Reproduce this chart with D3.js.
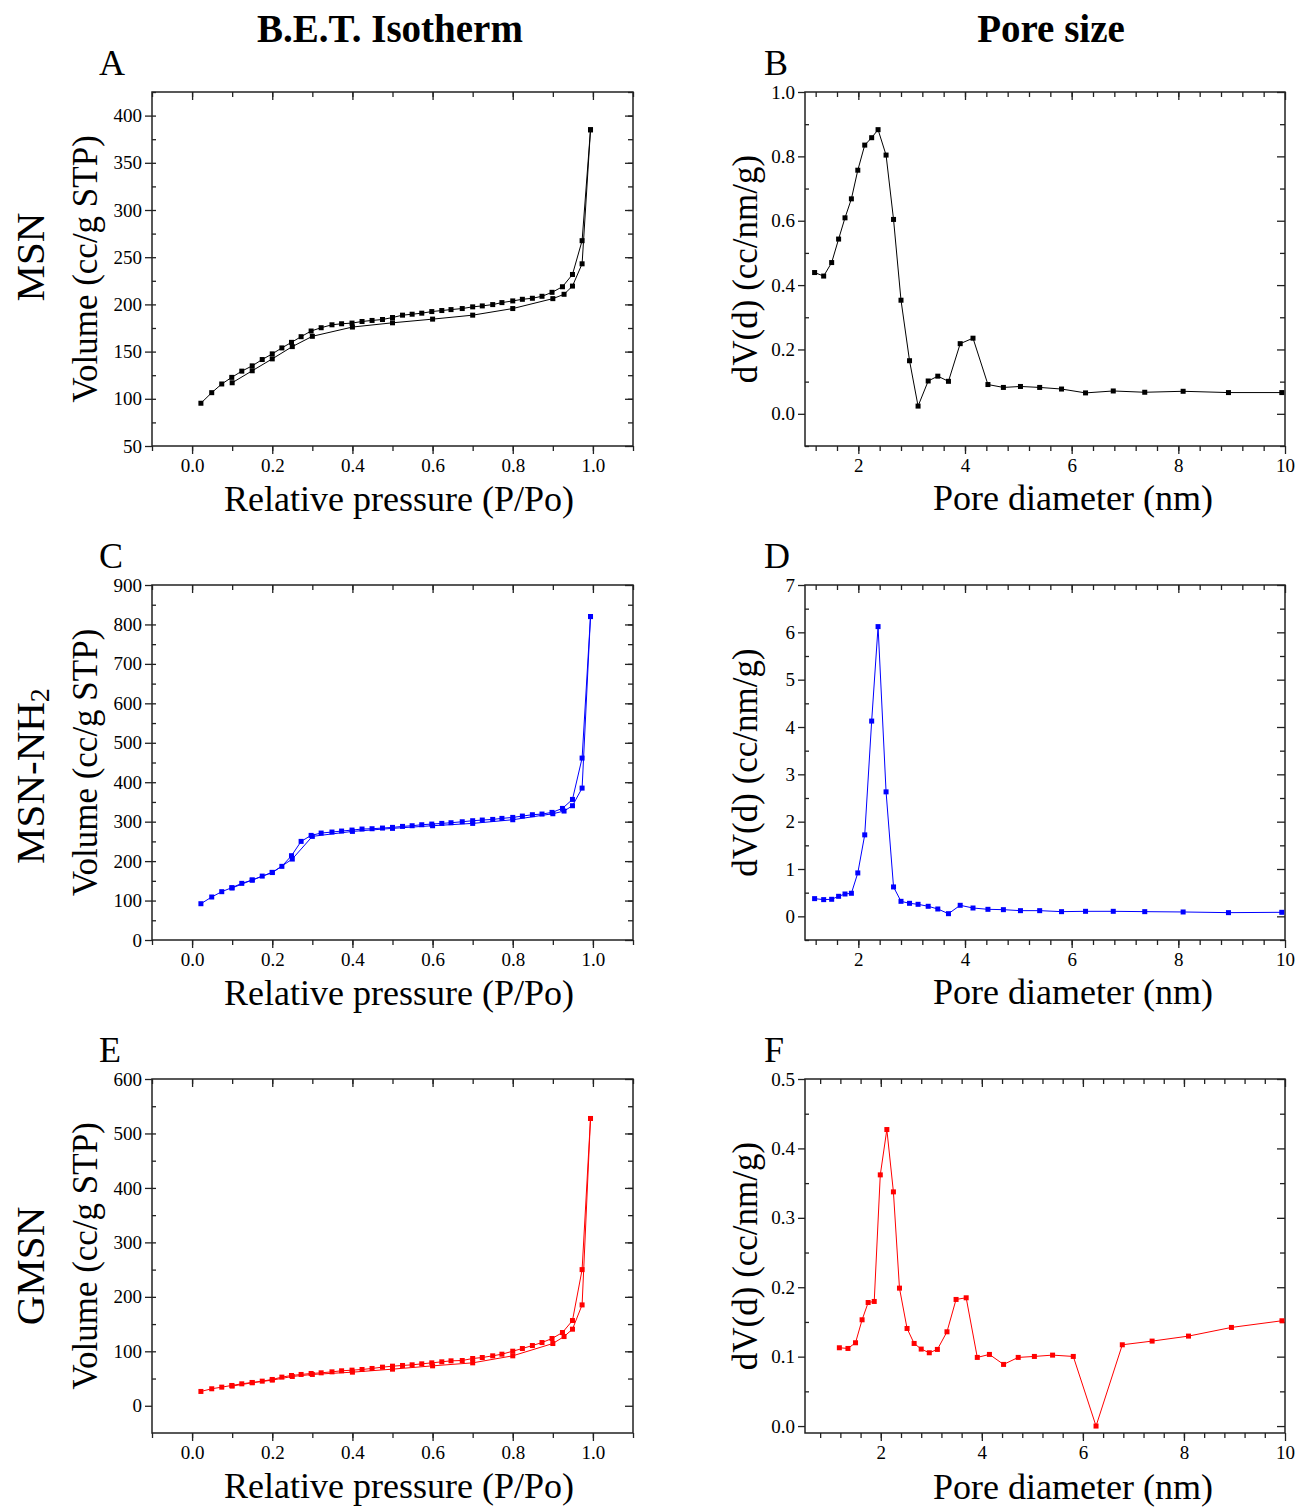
<!DOCTYPE html>
<html>
<head>
<meta charset="utf-8">
<script src="https://cdn.jsdelivr.net/npm/d3@7"></script>
<style>
  body { margin: 0; background: #fff; }
  svg { display: block; }
  text { font-family: "Liberation Serif", "Times New Roman", serif; fill: #000; }
</style>
</head>
<body>
<svg id="chart" width="1306" height="1509"></svg>
<script>
// relative pressure, dense branch (upper) and sparse branch (lower)
const pUpper = [0.022, 0.049, 0.074, 0.099, 0.124, 0.150, 0.175, 0.200, 0.224, 0.248,
  0.272, 0.297, 0.322, 0.349, 0.373, 0.399, 0.424, 0.449, 0.475, 0.500,
  0.525, 0.549, 0.573, 0.598, 0.623, 0.646, 0.674, 0.700, 0.724, 0.750,
  0.773, 0.800, 0.824, 0.849, 0.873, 0.898, 0.924, 0.949, 0.973, 0.994];
const pLower = [0.100, 0.150, 0.200, 0.250, 0.300, 0.400, 0.500, 0.600, 0.700, 0.800,
  0.900, 0.928, 0.949, 0.973, 0.994];

// MSN
const msnUpper = [95.3, 106.5, 115.7, 122.7, 129.3, 134.9, 141.6, 147.6, 153.9, 159.8,
  165.8, 171.8, 175.3, 178.4, 179.5, 180.2, 181.9, 183, 184, 186.1,
  188.6, 189.6, 190.7, 192.4, 193.5, 194.5, 195.6, 197.4, 198.4, 199.8,
  201.9, 203.7, 205.4, 206.5, 208.6, 212.8, 218.7, 231.7, 267.5, 385];
const msnLower = [117, 129.7, 142.3, 155.3, 166.2, 176, 180.5, 184.4, 188.6, 195.6,
  206.1, 210.7, 219.4, 243, 385];

// MSN-NH2
const nh2Upper = [92, 109, 122.5, 132.6, 143.6, 152, 162, 171.5, 186.7, 213.7,
  250, 265.2, 271.1, 273.7, 276.2, 278.7, 281.3, 282.1, 283.8, 285.5,
  288, 289.7, 292.2, 293.9, 295.6, 297.3, 299.8, 302.4, 304.1, 305.7,
  308.3, 310.8, 314.2, 317.6, 319.3, 323.5, 333.6, 356.4, 461.2, 820];
const nh2Lower = [132, 152, 171, 205.2, 262.7, 275.3, 283, 289.7, 295.6, 304.9,
  320.1, 326.9, 340.4, 385.1, 820];

// GMSN
const gmsnUpper = [26.3, 31.2, 34.2, 37.3, 40.3, 42.8, 45.2, 48.3, 52.6, 55.6,
  57.5, 59.3, 60.5, 62.3, 64.2, 65.4, 66.6, 68.5, 70.9, 72.7,
  74, 75.2, 77, 78.8, 80.7, 82.5, 83.1, 86.8, 88.6, 91.7,
  94.7, 100.2, 105.1, 110.6, 116.1, 123.5, 134.5, 156.5, 250, 527.5];
const gmsnLower = [36.1, 42.2, 47.1, 53.8, 57.5, 61.7, 67.2, 73.3, 78.8, 91.7,
  114.3, 127.1, 140.6, 185.2, 527.5];

// pore size distributions
const poreDiam = [1.18, 1.35, 1.50, 1.63, 1.75, 1.87, 1.99, 2.12, 2.25, 2.37,
  2.52, 2.66, 2.80, 2.96, 3.12, 3.31, 3.49, 3.69, 3.91, 4.15,
  4.43, 4.72, 5.04, 5.40, 5.81, 6.26, 6.78, 7.37, 8.09, 8.94, 9.94];
const msnPore = [0.439, 0.428, 0.47, 0.543, 0.609, 0.668, 0.757, 0.835, 0.858, 0.883,
  0.804, 0.604, 0.353, 0.165, 0.024, 0.102, 0.117, 0.101, 0.218, 0.235,
  0.091, 0.082, 0.085, 0.082, 0.077, 0.065, 0.071, 0.067, 0.07, 0.066, 0.066];
const nh2Pore = [0.374, 0.353, 0.36, 0.423, 0.472, 0.487, 0.917, 1.721, 4.125, 6.121,
  2.63, 0.621, 0.317, 0.275, 0.254, 0.212, 0.155, 0.056, 0.233, 0.176,
  0.148, 0.141, 0.12, 0.12, 0.099, 0.106, 0.106, 0.099, 0.092, 0.078, 0.085];
const gmsnPore = [0.1128, 0.1118, 0.12, 0.1531, 0.178, 0.1795, 0.3619, 0.4272, 0.3374, 0.1987,
  0.1406, 0.119, 0.1109, 0.1056, 0.1104, 0.1358, 0.1824, 0.1848, 0.0989, 0.1032,
  0.0888, 0.0989, 0.1003, 0.1022, 0.1003, 0.0, 0.1171, 0.1224, 0.1296, 0.1421, 0.1517];

const columnTitles = ["B.E.T. Isotherm", "Pore size"];
const rowNames = ["MSN", "MSN-NH", "GMSN"];
const panelLetters = ["A", "B", "C", "D", "E", "F"];

const svg = d3.select("#chart");

const range = (a, b, s) => d3.range(Math.round((b - a) / s) + 1).map(i => +(a + i * s).toFixed(4));

function drawPanel(cfg) {
  const x = d3.scaleLinear().domain(cfg.xDomain).range([cfg.left, cfg.right]);
  const y = d3.scaleLinear().domain(cfg.yDomain).range([cfg.bottom, cfg.top]);
  const g = svg.append("g");

  const styleAxis = sel => {
    sel.select(".domain").remove();
    sel.selectAll("line").attr("stroke", "#222").attr("stroke-width", 1.3);
    sel.selectAll("text").attr("font-size", 19).attr("font-family", "Liberation Serif, serif");
  };

  // bottom
  g.append("g").attr("transform", `translate(0,${cfg.bottom})`)
    .call(d3.axisBottom(x).tickValues(cfg.xMinor).tickSize(5).tickFormat(""))
    .call(styleAxis);
  g.append("g").attr("transform", `translate(0,${cfg.bottom})`)
    .call(d3.axisBottom(x).tickValues(cfg.xMajor).tickSize(8).tickPadding(5).tickFormat(d3.format(cfg.xFmt)))
    .call(styleAxis);
  // top (inward)
  g.append("g").attr("transform", `translate(0,${cfg.top})`)
    .call(d3.axisTop(x).tickValues(cfg.xMinor).tickSize(-5).tickFormat(""))
    .call(styleAxis);
  g.append("g").attr("transform", `translate(0,${cfg.top})`)
    .call(d3.axisTop(x).tickValues(cfg.xMajor).tickSize(-8).tickFormat(""))
    .call(styleAxis);
  // left
  g.append("g").attr("transform", `translate(${cfg.left},0)`)
    .call(d3.axisLeft(y).tickValues(cfg.yMinor).tickSize(-4).tickFormat(""))
    .call(styleAxis);
  g.append("g").attr("transform", `translate(${cfg.left},0)`)
    .call(d3.axisLeft(y).tickValues(cfg.yMajor).tickSize(7).tickPadding(3).tickFormat(d3.format(cfg.yFmt)))
    .call(styleAxis);
  // right (inward)
  g.append("g").attr("transform", `translate(${cfg.right},0)`)
    .call(d3.axisRight(y).tickValues(cfg.yMinor).tickSize(-5).tickFormat(""))
    .call(styleAxis);
  g.append("g").attr("transform", `translate(${cfg.right},0)`)
    .call(d3.axisRight(y).tickValues(cfg.yMajor).tickSize(-8).tickFormat(""))
    .call(styleAxis);

  g.append("rect")
    .attr("x", cfg.left).attr("y", cfg.top)
    .attr("width", cfg.right - cfg.left).attr("height", cfg.bottom - cfg.top)
    .attr("fill", "none").attr("stroke", "#222").attr("stroke-width", 1.5);

  const line = d3.line().x(d => x(d[0])).y(d => y(d[1]));
  cfg.series.forEach(s => {
    const pts = d3.zip(s.x, s.y);
    g.append("path").datum(pts)
      .attr("d", line).attr("fill", "none")
      .attr("stroke", cfg.color).attr("stroke-width", 1);
    g.selectAll(null).data(pts).join("rect")
      .attr("x", d => x(d[0]) - 2.5).attr("y", d => y(d[1]) - 2.5)
      .attr("width", 5).attr("height", 5)
      .attr("fill", cfg.color);
  });

  // axis titles
  g.append("text")
    .attr("x", cfg.xTitleX).attr("y", cfg.bottom + cfg.xTitleDy)
    .attr("text-anchor", "middle").attr("font-size", 36)
    .text(cfg.xTitle);
  g.append("text")
    .attr("transform", `translate(${cfg.left - cfg.yTitleDx},${(cfg.top + cfg.bottom) / 2}) rotate(-90)`)
    .attr("text-anchor", "middle").attr("dy", "0.35em").attr("font-size", 35)
    .text(cfg.yTitle);
  g.append("text")
    .attr("x", cfg.letterX).attr("y", cfg.top - 17)
    .attr("font-size", 36)
    .text(cfg.letter);
}

const leftCol = { left: 152, right: 633, xDomain: [-0.1, 1.1],
  xMajor: range(0, 1, 0.2), xMinor: range(-0.1, 1.1, 0.1), xFmt: ".1f",
  xTitle: "Relative pressure (P/Po)", xTitleX: 399, xTitleDy: 65,
  yTitle: "Volume (cc/g STP)", yTitleDx: 67, yFmt: "d", letterX: 99 };
const rightCol = { left: 805, right: 1285, xMajor: range(2, 10, 2), xFmt: "d",
  xTitle: "Pore diameter (nm)", xTitleX: 1073, xTitleDy: 64,
  yTitle: "dV(d) (cc/nm/g)", yTitleDx: 60, letterX: 764 };
const rows = [{ top: 92, bottom: 446 }, { top: 585, bottom: 940 }, { top: 1079, bottom: 1433 }];

// isotherms
drawPanel(Object.assign({}, leftCol, rows[0], {
  letter: panelLetters[0], color: "#000", yDomain: [50, 425],
  yMajor: range(50, 400, 50), yMinor: range(75, 425, 25),
  series: [{ x: pUpper, y: msnUpper }, { x: pLower, y: msnLower }] }));
drawPanel(Object.assign({}, leftCol, rows[1], {
  letter: panelLetters[2], color: "#0000ff", yDomain: [0, 900],
  yMajor: range(0, 900, 100), yMinor: range(50, 850, 50),
  series: [{ x: pUpper, y: nh2Upper }, { x: pLower, y: nh2Lower }] }));
drawPanel(Object.assign({}, leftCol, rows[2], {
  letter: panelLetters[4], color: "#ff0000", yDomain: [-50, 600],
  yMajor: range(0, 600, 100), yMinor: range(50, 550, 50),
  series: [{ x: pUpper, y: gmsnUpper }, { x: pLower, y: gmsnLower }] }));

// pore size
drawPanel(Object.assign({}, rightCol, rows[0], {
  letter: panelLetters[1], color: "#000", xDomain: [1, 10],
  xMinor: range(1.2, 9.6, 0.4), yDomain: [-0.1, 1.0],
  yMajor: range(0, 1, 0.2), yMinor: range(-0.1, 0.9, 0.2), yFmt: ".1f",
  series: [{ x: poreDiam, y: msnPore }] }));
drawPanel(Object.assign({}, rightCol, rows[1], {
  letter: panelLetters[3], color: "#0000ff", xDomain: [1, 10],
  xMinor: range(1.2, 9.6, 0.4), yDomain: [-0.5, 7],
  yMajor: range(0, 7, 1), yMinor: range(-0.5, 6.5, 1), yFmt: "d",
  series: [{ x: poreDiam, y: nh2Pore }] }));
drawPanel(Object.assign({}, rightCol, rows[2], {
  letter: panelLetters[5], color: "#ff0000", xDomain: [0.5, 10],
  xMinor: range(0.8, 9.6, 0.4), xTitleDy: 66, yDomain: [-0.01, 0.5],
  yMajor: range(0, 0.5, 0.1), yMinor: range(0.05, 0.45, 0.1), yFmt: ".1f",
  series: [{ x: poreDiam, y: gmsnPore }] }));

// column titles
svg.append("text").attr("x", 390).attr("y", 42).attr("text-anchor", "middle")
  .attr("font-size", 39).attr("font-weight", "bold").text(columnTitles[0]);
svg.append("text").attr("x", 1051).attr("y", 42).attr("text-anchor", "middle")
  .attr("font-size", 39).attr("font-weight", "bold").text(columnTitles[1]);

// row labels
const rowLabelY = [257, 776, 1266];
rowNames.forEach((name, i) => {
  const t = svg.append("text")
    .attr("transform", `translate(30,${rowLabelY[i]}) rotate(-90)`)
    .attr("text-anchor", "middle").attr("dy", "0.35em").attr("font-size", 41)
    .text(name);
  if (i === 1) t.append("tspan").attr("font-size", 28).attr("dy", "0.15em").text("2");
});
</script>
</body>
</html>
